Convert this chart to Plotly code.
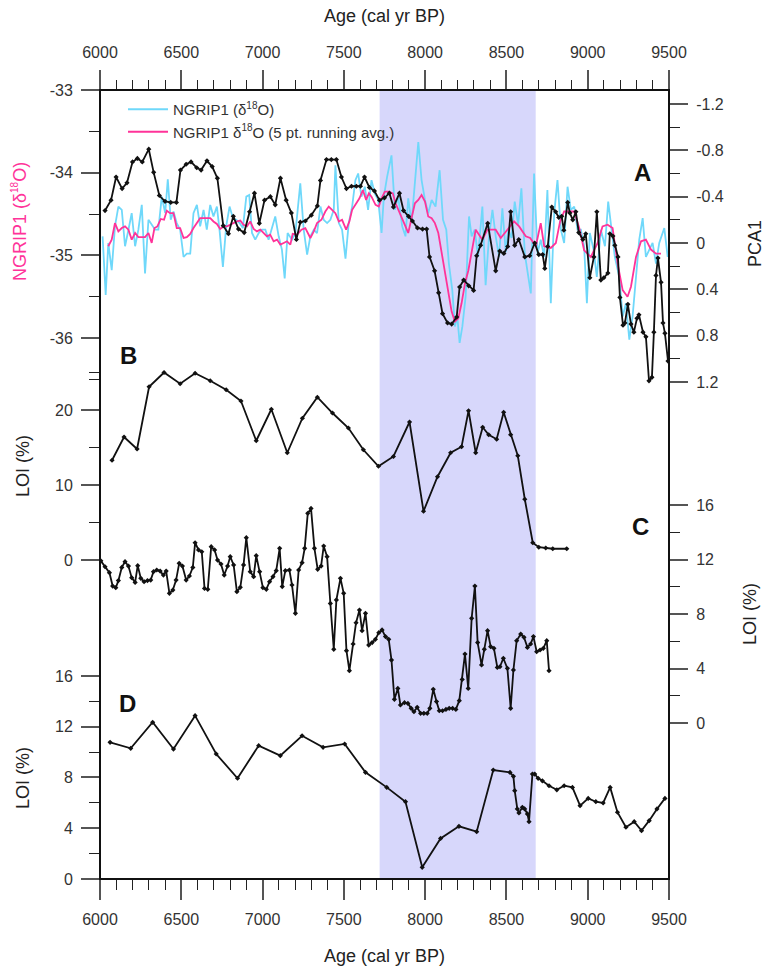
import plotly.graph_objects as go

# ---------------- data ----------------
ngrip_age = [6016, 6035, 6051, 6072, 6092, 6113, 6134, 6154, 6175, 6195, 6216, 6236, 6257, 6277, 6298, 6318,
             6339, 6359, 6380, 6401, 6417, 6435, 6452, 6472, 6493, 6514, 6534, 6555, 6575, 6596, 6616, 6637,
             6657, 6678, 6698, 6719, 6735, 6756, 6776, 6797, 6818, 6838, 6859, 6879, 6900, 6918, 6935, 6955,
             6976, 6996, 7017, 7037, 7058, 7078, 7099, 7119, 7136, 7154, 7181, 7202, 7232, 7253, 7274, 7294,
             7315, 7335, 7356, 7376, 7397, 7417, 7438, 7448, 7469, 7489, 7510, 7530, 7551, 7571, 7588, 7608,
             7629, 7649, 7670, 7690, 7711, 7732, 7746, 7766, 7793, 7814, 7834, 7859, 7879, 7896, 7916, 7937,
             7958, 7978, 7999, 8019, 8040, 8064, 8089, 8110, 8130, 8146, 8167, 8183, 8198, 8212, 8229, 8249,
             8270, 8286, 8305, 8325, 8352, 8372, 8393, 8414, 8434, 8455, 8475, 8496, 8512, 8531, 8551, 8572,
             8592, 8613, 8633, 8650, 8670, 8691, 8711, 8732, 8752, 8773, 8794, 8814, 8835, 8855, 8876, 8896,
             8917, 8937, 8958, 8978, 8995, 9013, 9036, 9056, 9081, 9106, 9126, 9147, 9167, 9194, 9215, 9235,
             9256, 9276, 9297, 9317, 9338, 9358, 9379, 9399, 9420, 9440, 9471, 9492]
ngrip_d18o = [-34.77, -35.48, -34.85, -35.18, -34.65, -34.41, -34.45, -34.89, -34.69, -34.49, -34.89, -34.69,
              -34.39, -35.22, -34.57, -34.63, -34.69, -34.69, -34.29, -34.49, -34.08, -34.57, -34.47, -34.61,
              -34.69, -35.02, -34.98, -34.98, -34.49, -34.39, -34.65, -34.45, -34.69, -34.39, -34.53, -34.41,
              -34.69, -35.14, -34.65, -34.41, -34.55, -34.57, -34.61, -34.67, -34.29, -34.27, -34.73, -34.81,
              -34.73, -34.69, -34.69, -34.81, -34.65, -34.53, -34.77, -34.93, -35.28, -34.73, -34.81, -34.73,
              -34.13, -34.69, -34.99, -34.77, -34.69, -34.73, -34.41, -34.57, -34.61, -34.57, -34.45, -33.91,
              -34.61, -34.69, -35.04, -34.61, -34.41, -34.09, -34.01, -34.29, -34.17, -34.45, -34.09, -34.25,
              -34.33, -34.73, -34.29, -34.05, -33.79, -34.45, -34.29, -34.65, -34.77, -34.31, -34.61, -34.09,
              -33.63, -34.09, -34.33, -34.49, -34.33, -34.41, -33.97, -34.57, -34.69, -35.10, -35.42, -35.86,
              -35.74, -36.06, -35.86, -35.50, -34.53, -34.77, -34.69, -35.02, -34.41, -35.36, -34.77, -34.45,
              -34.77, -35.02, -34.43, -34.96, -34.69, -34.79, -34.35, -34.63, -34.19, -34.98, -35.26, -35.46,
              -34.01, -34.98, -34.81, -35.02, -34.21, -35.58, -34.49, -34.09, -34.69, -34.85, -34.17, -34.45,
              -34.41, -34.69, -34.69, -34.89, -35.58, -34.73, -34.93, -35.26, -34.69, -34.89, -34.35, -34.69,
              -35.02, -35.26, -35.74, -35.58, -36.02, -35.74, -35.30, -34.81, -34.55, -35.02, -34.93, -34.85,
              -35.10, -34.85, -34.67, -35.02]

avg_age = [6051, 6072, 6092, 6113, 6134, 6154, 6175, 6195, 6216, 6236, 6257, 6277, 6298, 6318, 6335, 6353,
           6374, 6394, 6411, 6431, 6452, 6472, 6493, 6514, 6534, 6555, 6575, 6596, 6616, 6637, 6657, 6678,
           6698, 6719, 6739, 6760, 6781, 6801, 6822, 6842, 6863, 6883, 6904, 6924, 6945, 6965, 6986, 7006,
           7027, 7047, 7068, 7089, 7109, 7130, 7150, 7171, 7185, 7212, 7239, 7263, 7294, 7315, 7335, 7362,
           7386, 7407, 7428, 7448, 7469, 7489, 7514, 7534, 7551, 7571, 7596, 7617, 7637, 7654, 7670, 7695,
           7715, 7732, 7752, 7777, 7801, 7818, 7838, 7859, 7879, 7896, 7916, 7937, 7958, 7978, 7999, 8019,
           8040, 8060, 8081, 8101, 8122, 8142, 8163, 8183, 8204, 8224, 8245, 8266, 8286, 8311, 8352, 8383,
           8434, 8465, 8506, 8547, 8578, 8619, 8646, 8681, 8711, 8732, 8773, 8804, 8830, 8855, 8886, 8917,
           8948, 8978, 9019, 9061, 9091, 9122, 9153, 9184, 9215, 9245, 9266, 9297, 9328, 9358, 9389, 9420,
           9451]
avg_d18o = [-34.89, -34.81, -34.61, -34.71, -34.67, -34.65, -34.69, -34.81, -34.73, -34.78, -34.78, -34.78,
            -34.73, -34.85, -34.67, -34.65, -34.56, -34.57, -34.46, -34.49, -34.49, -34.67, -34.67, -34.79,
            -34.78, -34.74, -34.67, -34.61, -34.55, -34.55, -34.55, -34.55, -34.59, -34.62, -34.68, -34.65,
            -34.65, -34.63, -34.61, -34.59, -34.58, -34.63, -34.65, -34.59, -34.68, -34.71, -34.69, -34.73,
            -34.77, -34.75, -34.83, -34.81, -34.87, -34.85, -34.83, -34.87, -34.74, -34.75, -34.69, -34.67,
            -34.79, -34.71, -34.61, -34.57, -34.47, -34.41, -34.45, -34.49, -34.59, -34.57, -34.69, -34.59,
            -34.45, -34.39, -34.31, -34.21, -34.33, -34.25, -34.29, -34.39, -34.41, -34.31, -34.23, -34.23,
            -34.25, -34.37, -34.47, -34.57, -34.65, -34.73, -34.57, -34.37, -34.33, -34.27, -34.35, -34.53,
            -34.55, -34.61, -34.73, -34.96, -35.18, -35.46, -35.68, -35.80, -35.76, -35.58, -35.34, -35.18,
            -34.98, -34.69, -34.81, -34.69, -34.69, -34.79, -34.69, -34.59, -34.65, -34.77, -34.79, -34.89,
            -34.61, -34.89, -34.91, -34.85, -34.59, -34.47, -34.47, -34.47, -34.67, -34.94, -35.02, -34.85,
            -34.65, -34.63, -34.67, -35.10, -35.42, -35.50, -35.38, -35.02, -34.83, -34.81, -34.93, -34.98,
            -34.98]

pca1_age = [6031, 6068, 6099, 6136, 6166, 6200, 6230, 6260, 6300, 6330, 6365, 6400, 6435, 6470, 6495, 6530,
            6560, 6595, 6622, 6658, 6690, 6722, 6758, 6790, 6820, 6852, 6887, 6920, 6950, 6980, 7012, 7048,
            7078, 7110, 7145, 7177, 7208, 7232, 7263, 7300, 7337, 7356, 7393, 7423, 7454, 7485, 7516, 7547,
            7577, 7602, 7627, 7657, 7688, 7719, 7750, 7780, 7805, 7842, 7867, 7898, 7922, 7953, 7984, 8009,
            8027, 8058, 8083, 8107, 8138, 8163, 8194, 8212, 8237, 8268, 8298, 8317, 8341, 8385, 8434, 8459,
            8484, 8508, 8526, 8551, 8576, 8613, 8643, 8674, 8699, 8723, 8736, 8754, 8779, 8803, 8822, 8840,
            8853, 8877, 8890, 8908, 8927, 8945, 8970, 8988, 9013, 9038, 9056, 9081, 9099, 9124, 9136, 9155,
            9167, 9186, 9198, 9217, 9229, 9247, 9266, 9284, 9303, 9315, 9340, 9358, 9377, 9395, 9407, 9420,
            9432, 9451, 9463, 9475, 9494]
pca1_val = [-0.28, -0.37, -0.57, -0.47, -0.52, -0.70, -0.73, -0.70, -0.81, -0.61, -0.41, -0.36, -0.35, -0.35,
            -0.63, -0.68, -0.70, -0.65, -0.63, -0.71, -0.66, -0.56, -0.15, -0.08, -0.23, -0.12, -0.09, -0.27,
            -0.43, -0.17, -0.37, -0.40, -0.33, -0.56, -0.37, -0.26, -0.03, -0.18, -0.19, -0.24, -0.32, -0.54,
            -0.72, -0.72, -0.72, -0.57, -0.47, -0.49, -0.49, -0.49, -0.57, -0.48, -0.45, -0.37, -0.39, -0.43,
            -0.31, -0.43, -0.28, -0.23, -0.19, -0.13, -0.12, -0.12, 0.12, 0.24, 0.43, 0.61, 0.69, 0.70, 0.64,
            0.38, 0.32, 0.37, 0.41, 0.11, 0.02, -0.17, 0.24, 0.07, 0.09, 0.03, -0.27, 0.02, -0.03, 0.12, 0.11,
            0.00, 0.10, 0.10, 0.22, 0.03, -0.31, -0.27, -0.22, -0.23, -0.11, -0.35, -0.26, -0.20, -0.27, -0.09,
            -0.03, -0.08, 0.30, 0.12, -0.27, 0.32, 0.30, 0.26, -0.08, -0.06, 0.02, 0.12, 0.47, 0.71, 0.69, 0.53,
            0.70, 0.77, 0.65, 0.62, 0.77, 0.81, 1.19, 1.16, 0.77, 0.28, 0.13, 0.34, 0.69, 0.78, 1.02]

loi_b_age = [6074, 6148, 6228, 6302, 6394, 6493, 6585, 6678, 6776, 6867, 6961, 7054, 7152, 7245, 7337, 7430,
             7528, 7620, 7713, 7805, 7904, 7990, 8076, 8157, 8224, 8267, 8311, 8354, 8391, 8440, 8483, 8526,
             8570, 8613, 8662, 8699, 8742, 8785, 8871]
loi_b_val = [13.3, 16.4, 14.8, 23.1, 25.0, 23.5, 24.9, 23.9, 22.7, 21.2, 15.9, 20.1, 14.3, 18.9, 21.7, 19.6,
             17.6, 14.7, 12.5, 13.8, 18.4, 6.5, 11.1, 14.3, 15.1, 19.9, 14.3, 17.7, 16.7, 16.1, 19.7, 16.7,
             13.9, 8.1, 2.3, 1.7, 1.6, 1.5, 1.5]

loi_c_age = [6005, 6031, 6058, 6078, 6097, 6113, 6134, 6154, 6175, 6195, 6216, 6232, 6251, 6271, 6292, 6312,
             6329, 6349, 6370, 6390, 6407, 6427, 6448, 6468, 6487, 6507, 6530, 6550, 6571, 6585, 6606, 6626,
             6643, 6663, 6684, 6705, 6723, 6744, 6764, 6785, 6801, 6822, 6842, 6863, 6883, 6900, 6924, 6945,
             6961, 6982, 7002, 7023, 7043, 7064, 7084, 7105, 7121, 7140, 7165, 7181, 7202, 7222, 7243, 7259,
             7278, 7298, 7319, 7339, 7360, 7376, 7397, 7417, 7438, 7454, 7479, 7499, 7516, 7534, 7557, 7575,
             7596, 7612, 7633, 7653, 7674, 7694, 7715, 7735, 7756, 7776, 7793, 7811, 7832, 7848, 7873, 7894,
             7914, 7931, 7951, 7972, 7992, 8013, 8029, 8050, 8070, 8087, 8107, 8128, 8148, 8169, 8189, 8210,
             8228, 8245, 8265, 8286, 8306, 8323, 8347, 8364, 8384, 8403, 8423, 8444, 8460, 8481, 8506, 8526,
             8543, 8563, 8588, 8608, 8629, 8649, 8666, 8686, 8707, 8727, 8748, 8762]
loi_c_val = [11.9, 11.47, 11.03, 10.05, 9.93, 10.45, 11.42, 11.84, 11.52, 10.67, 10.32, 11.55, 10.62, 10.37,
             10.45, 10.49, 11.11, 11.23, 11.15, 10.86, 11.15, 9.52, 9.76, 10.49, 11.72, 11.52, 10.49, 10.79,
             11.42, 13.23, 12.70, 12.57, 9.88, 9.81, 12.94, 12.70, 11.96, 11.67, 10.86, 11.52, 12.21, 11.60,
             9.64, 9.96, 11.60, 13.60, 11.11, 10.74, 12.28, 11.11, 9.93, 9.81, 10.37, 10.74, 11.18, 12.82,
             10.01, 11.18, 11.23, 10.13, 8.05, 11.23, 11.77, 12.82, 15.39, 15.75, 12.82, 11.28, 11.52, 12.99,
             12.21, 8.78, 5.41, 9.03, 10.62, 9.52, 5.31, 3.84, 5.80, 7.36, 8.29, 6.78, 8.05, 5.72, 5.90, 6.14,
             6.63, 6.83, 6.34, 6.14, 4.62, 1.74, 2.54, 1.32, 1.49, 1.44, 1.08, 0.83, 1.15, 0.71, 0.71, 0.71,
             1.08, 2.47, 1.57, 0.90, 0.90, 1.00, 1.08, 1.08, 1.00, 1.64, 3.20, 5.06, 2.54, 7.68, 10.05, 5.90,
             4.26, 5.41, 6.78, 5.60, 5.48, 4.08, 4.13, 4.75, 4.01, 1.08, 3.89, 6.04, 6.53, 6.29, 5.55, 5.80,
             6.34, 5.23, 5.36, 5.48, 6.04, 3.84]

loi_d_age = [6062, 6189, 6324, 6452, 6585, 6715, 6846, 6976, 7109, 7243, 7372, 7505, 7633, 7764, 7879, 7982,
             8095, 8208, 8317, 8419, 8522, 8543, 8551, 8567, 8577, 8598, 8612, 8629, 8639, 8660, 8674, 8695,
             8721, 8762, 8810, 8855, 8906, 8953, 9003, 9050, 9095, 9138, 9183, 9235, 9286, 9331, 9378, 9426,
             9475]
loi_d_val = [10.77, 10.30, 12.35, 10.24, 12.87, 9.85, 7.94, 10.51, 9.72, 11.29, 10.38, 10.64, 8.41, 7.22, 6.09,
             0.92, 3.20, 4.15, 3.73, 8.59, 8.40, 8.09, 6.96, 5.52, 5.21, 5.65, 5.52, 5.13, 4.52, 8.27, 8.27,
             7.93, 7.74, 7.35, 7.03, 7.35, 7.22, 5.78, 6.35, 6.09, 5.99, 7.22, 5.26, 4.08, 4.52, 3.81, 4.60,
             5.52, 6.35]

shade_age = [7720, 8680]

x_ticks = [6000, 6500, 7000, 7500, 8000, 8500, 9000, 9500]
x_minor = [v for v in range(6100, 9500, 100) if v % 500 != 0]
a_ticks = [-33, -34, -35, -36]
a_ticklabels = ["-33", "-34", "-35", "-36"]
a_minor = [-33.5, -34.5, -35.5, -36.5]
pca_ticks = [-1.2, -0.8, -0.4, 0, 0.4, 0.8, 1.2]
pca_ticklabels = ["-1.2", "-0.8", "-0.4", "0", "0.4", "0.8", "1.2"]
pca_minor = [-1.0, -0.6, -0.2, 0.2, 0.6, 1.0]
b_ticks = [0, 10, 20]
b_minor = [5, 15, 25]
cd_ticks = [0, 4, 8, 12, 16]
cd_minor = [2, 6, 10, 14]

# ---------------- layout geometry ----------------
W, H = 765, 968
PL, PR, PT, PB = 100, 669, 90, 879
FONT = "Liberation Sans, Arial, sans-serif"
SUP18 = '<sup><span style="font-size:10px">18</span></sup>'


def fy(py):
    return (PB - py) / (PB - PT)


def fx(px):
    return (px - PL) / (PR - PL)


def domain(v_ref, p_ref, px_per_unit, lo, hi, reverse=False):
    sgn = 1 if reverse else -1
    p_lo = p_ref + sgn * (lo - v_ref) * px_per_unit
    p_hi = p_ref + sgn * (hi - v_ref) * px_per_unit
    a, b = sorted([fy(p_lo), fy(p_hi)])
    return [max(0.0, a), min(1.0, b)]


a_range = [-36.6, -33.0]
pca_range = [1.3, -1.32]
b_range = [0, 26.5]
c_range = [0, 16.6]
d_range = [0, 16.6]

dom_a = domain(-33, 90, 82.67, *a_range)
dom_pca = domain(0, 243, 115.8, pca_range[1], pca_range[0], reverse=True)
dom_b = domain(0, 560, 7.5, *b_range)
dom_c = domain(0, 723, 13.625, *c_range)
dom_d = domain(0, 879, 12.69, *d_range)

TICKFONT = dict(family=FONT, size=16, color="#333333")


def yax(rng, dom, tickvals, ticktext, minor_vals, side="left"):
    return dict(
        range=rng, domain=dom, anchor="x", side=side,
        showgrid=False, zeroline=False, showline=False,
        tickmode="array", tickvals=tickvals, ticktext=ticktext,
        ticks="outside", ticklen=18, tickwidth=1.5, tickcolor="#555555",
        tickfont=TICKFONT, ticklabelstandoff=5,
        minor=dict(tickmode="array", tickvals=minor_vals, ticks="outside",
                   ticklen=10, tickwidth=1.3, tickcolor="#222222", showgrid=False),
        fixedrange=True,
    )


fig = go.Figure()

fig.add_trace(go.Scatter(x=ngrip_age, y=ngrip_d18o, mode="lines", name="NGRIP1 (δ" + SUP18 + "O)",
                         line=dict(color="#6fd8fa", width=1.8), xaxis="x", yaxis="y"))
fig.add_trace(go.Scatter(x=avg_age, y=avg_d18o, mode="lines",
                         name="NGRIP1 δ" + SUP18 + "O (5 pt. running avg.)",
                         line=dict(color="#ff3399", width=1.8), xaxis="x", yaxis="y"))

black_line = dict(color="#111111", width=1.8)
black_marker = dict(symbol="diamond", size=4, color="#111111")
fig.add_trace(go.Scatter(x=pca1_age, y=pca1_val, mode="lines+markers", line=black_line, marker=black_marker,
                         showlegend=False, xaxis="x", yaxis="y2"))
fig.add_trace(go.Scatter(x=loi_b_age, y=loi_b_val, mode="lines+markers", line=black_line, marker=black_marker,
                         showlegend=False, xaxis="x", yaxis="y3"))
fig.add_trace(go.Scatter(x=loi_c_age, y=loi_c_val, mode="lines+markers", line=black_line, marker=black_marker,
                         showlegend=False, xaxis="x", yaxis="y4"))
fig.add_trace(go.Scatter(x=loi_d_age, y=loi_d_val, mode="lines+markers", line=black_line, marker=black_marker,
                         showlegend=False, xaxis="x", yaxis="y5"))
# invisible carrier trace so the top age axis is drawn
fig.add_trace(go.Scatter(x=[x_ticks[0], x_ticks[-1]], y=[None, None], mode="lines", showlegend=False,
                         hoverinfo="skip", xaxis="x2", yaxis="y"))

xcommon = dict(
    range=[6000, 9500], showgrid=False, zeroline=False, showline=False,
    tickmode="array", tickvals=x_ticks, ticktext=[str(v) for v in x_ticks],
    ticks="outside", ticklen=20, tickwidth=1.5, tickcolor="#555555",
    tickfont=TICKFONT, ticklabelstandoff=6,
    minor=dict(tickmode="array", tickvals=x_minor, ticks="outside", ticklen=10,
               tickwidth=1.3, tickcolor="#222222", showgrid=False),
    fixedrange=True,
)

fig.update_layout(
    width=W, height=H,
    margin=dict(l=PL, r=W - PR, t=PT, b=H - PB),
    paper_bgcolor="white", plot_bgcolor="rgba(0,0,0,0)",
    font=dict(family=FONT, color="#333333"),
    xaxis=dict(**xcommon, anchor="free", position=0, side="bottom"),
    xaxis2=dict(**xcommon, anchor="free", position=1, side="top", overlaying="x"),
    yaxis=yax(a_range, dom_a, a_ticks, a_ticklabels, a_minor),
    yaxis2=yax(pca_range, dom_pca, pca_ticks, pca_ticklabels, pca_minor, side="right"),
    yaxis3=yax(b_range, dom_b, b_ticks, [str(v) for v in b_ticks], b_minor),
    yaxis4=yax(c_range, dom_c, cd_ticks, [str(v) for v in cd_ticks], cd_minor, side="right"),
    yaxis5=yax(d_range, dom_d, cd_ticks, [str(v) for v in cd_ticks], cd_minor),
    legend=dict(x=fx(123), y=fy(93), xanchor="left", yanchor="top", bgcolor="rgba(0,0,0,0)",
                font=dict(family=FONT, size=15, color="#333333"), tracegroupgap=0,
                itemwidth=40),
    showlegend=True,
)

# shaded interval and frame
fig.add_shape(type="rect", xref="x", yref="paper", x0=shade_age[0], x1=shade_age[1], y0=0, y1=1,
              fillcolor="#d7d7fb", line=dict(width=0), layer="below")
fig.add_shape(type="rect", xref="paper", yref="paper", x0=0, x1=1, y0=0, y1=1,
              line=dict(color="#111111", width=2), fillcolor="rgba(0,0,0,0)", layer="above")


def ann(text, px, py, size=18, color="#222222", angle=0, bold=False):
    if bold:
        text = "<b>" + text + "</b>"
    fig.add_annotation(text=text, x=fx(px), y=fy(py), xref="paper", yref="paper",
                       showarrow=False, textangle=angle, xanchor="center", yanchor="middle",
                       font=dict(family=FONT, size=size, color=color))


ann("Age (cal yr BP)", 384, 16)
ann("Age (cal yr BP)", 384, 956)
ann("NGRIP1 (δ" + SUP18 + "O)", 19, 222, color="#ff3399", angle=-90)
ann("LOI (%)", 23, 466, angle=-90)
ann("LOI (%)", 23, 778, angle=-90)
ann("PCA1", 755, 244, angle=-90)
ann("LOI (%)", 750, 614, angle=-90)
ann("A", 642, 172, size=24, color="#111111", bold=True)
ann("B", 128, 355, size=24, color="#111111", bold=True)
ann("C", 640, 526, size=24, color="#111111", bold=True)
ann("D", 127, 703, size=24, color="#111111", bold=True)

fig.write_html("out.html")
